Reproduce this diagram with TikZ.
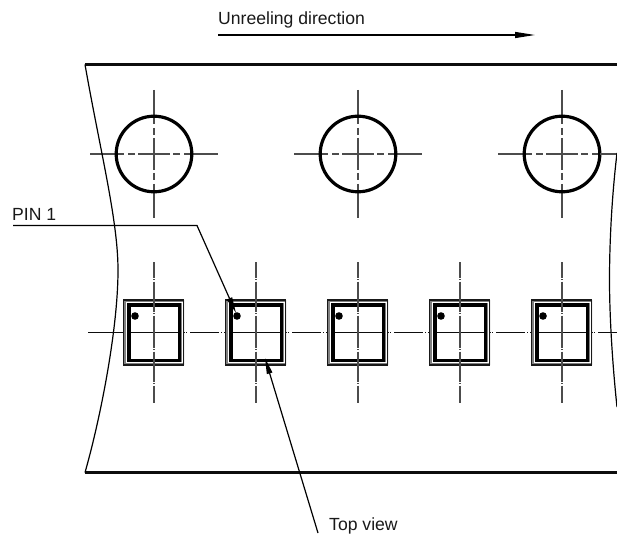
\documentclass[tikz,border=0pt]{standalone}
\usepackage{fontspec}
\setmainfont{Liberation Sans}
\usetikzlibrary{arrows.meta}
\tikzset{
  lbl/.style={anchor=base west,inner sep=0pt,font=\fontsize{17.6}{20}\selectfont,text=black!90},
  edgeline/.style={line width=3.2pt,black!95},
  thinline/.style={line width=1.2pt,black},
  centerline/.style={line width=1.4pt,black!70},
  hcenter/.style={line width=1.5pt,black!95},
  holecircle/.style={line width=3.2pt,black},
  leader/.style={line width=1.2pt,black,-{Triangle[length=#1,width=5.5pt]}},
  leader/.default=16pt,
}
\begin{document}
\begin{tikzpicture}[x=1pt,y=-1pt]
\useasboundingbox (0,0) rectangle (617,534);
% centre lines at holes
\foreach \c in {154,358,562}{
  \foreach \a/\b in {-64/-30,-26/-19,-16/16,19/26,30/64}{
    \draw[centerline] (\c,154+\a) -- (\c,154+\b);
    \draw[centerline] (\c+\a,154) -- (\c+\b,154);
  }
  \draw[holecircle] (\c,154) circle (37.8);
}
\draw[centerline] (600,154) -- (617,154);
% tape
\draw[edgeline] (85,64.5) -- (617,64.5);
\draw[edgeline] (85,472.5) -- (617,472.5);
\draw[thinline] (85,64.5) .. controls (100,150) and (118,220) .. (118,270)
  .. controls (118,330) and (100,420) .. (85,472.5);
\draw[thinline] (617,153) .. controls (612,195) and (609.5,240) .. (609.5,280)
  .. controls (609.5,320) and (613,370) .. (617,407);
% horizontal centre line of the components
\draw[hcenter] (88,332.5) -- (122,332.5);
% components
\foreach \c in {154,256,358,460,562}{
  \draw[hcenter] (\c-32,332.5) -- (\c+30.5,332.5);
  \draw[hcenter] (\c+32,332.5) -- (\c+33,332.5);
  \draw[hcenter] (\c+36,332.5) -- (\c+65,332.5);
  \draw[hcenter] (\c+67,332.5) -- (\c+68,332.5);
  \fill[black!50,even odd rule] (\c-31,300) rectangle (\c+30,365) (\c-27,304) rectangle (\c+27,361);
  \draw[line width=1.6pt,black!90] (\c-30.6,299.9) rectangle (\c+29.6,364.7);
  \draw[line width=0.6pt,white] (\c-27.6,302.6) rectangle (\c+27.8,362.4);
  \draw[line width=3.2pt,black] (\c-25,305) rectangle (\c+25.4,360.3);
  \fill[black] (\c-19,316) circle (3.8);
  \foreach \a/\b in {-70.5/-55,-51/-21,-17/15,19/49,53/70.5}{
    \draw[centerline] (\c,332.5+\a) -- (\c,332.5+\b);
  }
  \foreach \a in {-53,-19,17,51}{
    \draw[line width=1.4pt,black!70] (\c,332.5+\a-0.5) -- (\c,332.5+\a+0.5);
  }
}
% labels
\node[lbl] (dir) at (218,25) {Unreeling direction};
\node[lbl] (pin) at (12,220.5) {PIN 1};
\node[lbl] (top) at (329,530) {Top view};
% leaders
\coordinate (dirA) at (218,35);
\coordinate (dirB) at (535,35);
\coordinate (pinA) at (13,225.5);
\coordinate (pinK) at (197,225.5);
\coordinate (pinB) at (236,313);
\coordinate (topA) at (318,533);
\coordinate (topB) at (265,358);
\draw[line width=1.2pt,black,-{Triangle[length=20pt,width=6pt]}] (dirA) -- (dirB);
\draw[leader] (pinA) -- (pinK) -- (pinB);
\draw[leader] (topA) -- (topB);
\end{tikzpicture}
\end{document}
